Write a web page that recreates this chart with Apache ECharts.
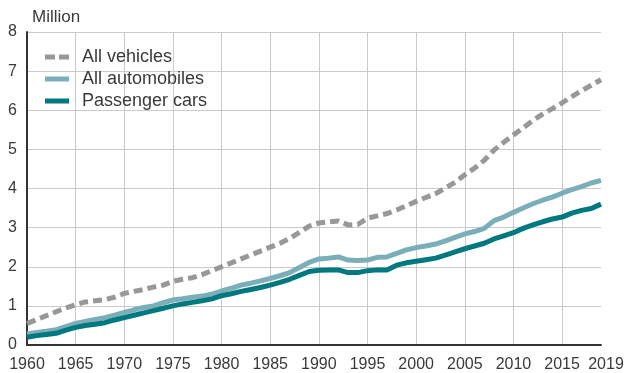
<!DOCTYPE html>
<html><head><meta charset="utf-8">
<script src="https://cdn.jsdelivr.net/npm/echarts@6/dist/echarts.min.js"></script>
<style>html,body{margin:0;padding:0;background:#fff}#c{width:632px;height:373px}</style>
</head><body><div id="c"></div>
<script>
const years = [];
for (let y = 1960; y <= 2019; y++) years.push(y);
const allVehicles = [0.55,0.65,0.75,0.85,0.95,1.03,1.1,1.13,1.16,1.22,1.32,1.37,1.42,1.48,1.53,1.63,1.68,1.72,1.8,1.9,2.0,2.1,2.2,2.3,2.4,2.5,2.6,2.72,2.88,3.04,3.12,3.15,3.17,3.07,3.08,3.24,3.3,3.36,3.45,3.56,3.67,3.77,3.87,4.01,4.16,4.35,4.52,4.72,4.98,5.18,5.37,5.55,5.74,5.9,6.04,6.19,6.35,6.5,6.64,6.78];
const allAutomobiles = [0.28,0.32,0.35,0.39,0.47,0.55,0.6,0.65,0.7,0.76,0.83,0.9,0.96,1.0,1.08,1.15,1.18,1.22,1.25,1.3,1.38,1.45,1.53,1.58,1.64,1.7,1.77,1.85,1.98,2.11,2.2,2.22,2.25,2.17,2.16,2.17,2.24,2.25,2.34,2.43,2.49,2.53,2.58,2.66,2.75,2.84,2.9,2.98,3.18,3.27,3.39,3.5,3.61,3.7,3.78,3.88,3.97,4.05,4.14,4.21];
const passengerCars = [0.2,0.24,0.27,0.3,0.38,0.45,0.5,0.53,0.57,0.64,0.7,0.76,0.82,0.88,0.94,1.0,1.05,1.09,1.13,1.18,1.26,1.31,1.37,1.42,1.47,1.53,1.6,1.68,1.78,1.88,1.91,1.92,1.92,1.85,1.85,1.9,1.92,1.92,2.04,2.1,2.14,2.18,2.22,2.3,2.38,2.46,2.53,2.6,2.71,2.79,2.87,2.98,3.07,3.15,3.22,3.27,3.37,3.44,3.49,3.6];
const seriesNames = ['All vehicles','All automobiles','Passenger cars'];
const yTicks = [0,1,2,3,4,5,6,7,8];
const unitLabel = 'Million';

const pairs = arr => arr.map((v,i)=>[years[i], v]);
const font = 'Liberation Sans, Arial, sans-serif';
const txt = '#3a3a3a';
const colors = ['#98989b','#7aafb9','#00787f'];
const lastYear = years[years.length-1];
const chart = echarts.init(document.getElementById('c'), null, {renderer:'canvas'});
chart.setOption({
  animation:false,
  textStyle:{fontFamily:font},
  title:{text:unitLabel,left:32,top:9,padding:0,textStyle:{fontSize:17,fontWeight:'normal',color:txt,fontFamily:font}},
  grid:{left:27,right:31,top:32,bottom:28,containLabel:false},
  legend:{
    orient:'vertical',left:45,top:48,padding:0,itemWidth:24,itemHeight:5,itemGap:4,
    data:[
      {name:seriesNames[0],icon:'path://M0,0h10v5h-10z M14,0h10v5h-10z',itemStyle:{color:colors[0]}},
      {name:seriesNames[1],icon:'rect',itemStyle:{color:colors[1]}},
      {name:seriesNames[2],icon:'rect',itemStyle:{color:colors[2]}}
    ],
    textStyle:{fontSize:18,color:txt,fontFamily:font,padding:[0,0,0,8]}
  },
  xAxis:{
    type:'value',min:years[0],max:lastYear,interval:5,
    axisLine:{lineStyle:{color:'#333',width:2}},
    axisTick:{show:false},
    axisLabel:{fontSize:16,color:txt,margin:12,showMaxLabel:true,fontFamily:font,
      formatter:v=>v===lastYear?'{last|'+v+'}':String(v),
      rich:{last:{fontSize:16,color:txt,fontFamily:font,padding:[0,0,0,10]}}},
    splitLine:{show:true,showMinLine:false,showMaxLine:false,lineStyle:{color:'#cacaca',width:1}}
  },
  yAxis:{
    type:'value',min:yTicks[0],max:yTicks[yTicks.length-1],interval:1,
    axisLine:{show:true,lineStyle:{color:'#333',width:2}},
    axisTick:{show:false},
    axisLabel:{fontSize:16,color:txt,margin:10,fontFamily:font},
    splitLine:{show:true,lineStyle:{color:'#cacaca',width:1}}
  },
  series:[
    {name:seriesNames[0],type:'line',data:pairs(allVehicles),symbol:'none',z:3,
     lineStyle:{color:colors[0],width:5,type:[9,5]},itemStyle:{color:colors[0]}},
    {name:seriesNames[1],type:'line',data:pairs(allAutomobiles),symbol:'none',z:2,
     lineStyle:{color:colors[1],width:5},itemStyle:{color:colors[1]}},
    {name:seriesNames[2],type:'line',data:pairs(passengerCars),symbol:'none',z:4,
     lineStyle:{color:colors[2],width:5},itemStyle:{color:colors[2]}}
  ]
});
</script></body></html>
